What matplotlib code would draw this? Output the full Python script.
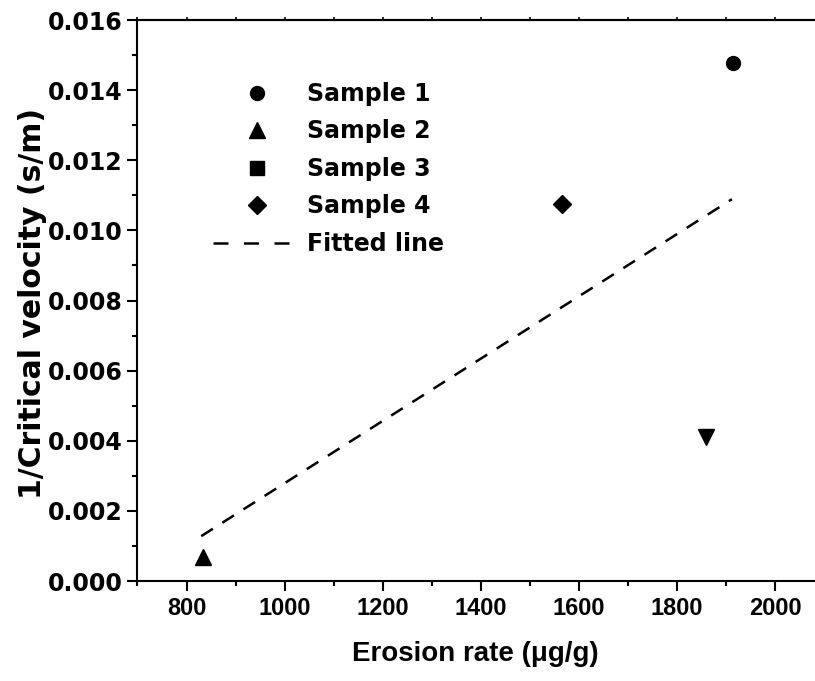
"""
erosion rate vs 1/critical velocity scatter with fitted line
"""

import numpy as np
from matplotlib import pyplot as plt
from matplotlib.lines import Line2D

# data
sample_names = ['Sample 1', 'Sample 2', 'Sample 3', 'Sample 4']
erosion_rate = [1914, 833, 1859, 1565]
inv_velocity = [0.01477, 0.00068, 0.00412, 0.01075]
plot_markers = ['o', '^', 'v', 'D']
legend_markers = ['o', '^', 's', 'D']
marker_sizes = [10, 12, 12, 9.5]
legend_sizes = [10, 12, 9.5, 9.5]

fit_x = [830, 1912]
fit_y = [0.00128, 0.01089]

x_ticks = [800, 1000, 1200, 1400, 1600, 1800, 2000]
y_ticks = [0.000, 0.002, 0.004, 0.006, 0.008, 0.010, 0.012, 0.014, 0.016]

X_FONT = 'Liberation Sans'
Y_FONT = 'DejaVu Sans'

fig = plt.figure(figsize=(8.15, 6.81), dpi=100)
ax = fig.add_axes([0.1687, 0.1468, 0.8425, 0.8238])

# points
for x, y, m, s in zip(erosion_rate, inv_velocity, plot_markers, marker_sizes):
    ax.plot(x, y, linestyle='none', marker=m, markersize=s, color='black')

# fitted line
ax.plot(fit_x, fit_y, color='black', linewidth=1.8, linestyle=(0, (5.5, 4.5)),
        dash_capstyle='butt')

ax.set_xlim(700, 2100)
ax.set_ylim(0, 0.016)
ax.set_xticks(x_ticks)
ax.set_xticks(np.arange(700, 2101, 100), minor=True)
ax.set_yticks(y_ticks)
ax.set_yticks(np.arange(0, 0.0161, 0.001), minor=True)
ax.set_xticklabels([str(t) for t in x_ticks], fontfamily=X_FONT,
                   fontweight='bold', fontsize=17)
ax.set_yticklabels(['%.3f' % t for t in y_ticks], fontfamily=Y_FONT,
                   fontweight='bold', fontsize=17)

ax.tick_params(which='major', direction='out', length=7.5, width=1.5)
ax.tick_params(which='minor', direction='out', length=3.8, width=1.5)
ax.tick_params(axis='x', which='major', pad=4)
ax.tick_params(axis='y', which='major', pad=3)
for spine in ax.spines.values():
    spine.set_linewidth(1.5)

# tiny ticks on the top edge
top = ax.secondary_xaxis('top')
top.set_xticks(np.arange(700, 2101, 100))
top.set_xticklabels([])
top.tick_params(direction='out', length=2, width=1.2)
top.spines['top'].set_linewidth(1.5)

ax.set_xlabel('Erosion rate (\u03bcg/g)', fontfamily=X_FONT,
              fontweight='bold', fontsize=20)
ax.xaxis.set_label_coords(0.4916, -0.107)
ax.set_ylabel('1/Critical velocity (s/m)', fontfamily=Y_FONT,
              fontweight='bold', fontsize=21.5)
ax.yaxis.set_label_coords(-0.132, 0.494)

# legend (sample 3 uses a square in the legend of the original)
handles = [Line2D([], [], linestyle='none', marker=m, markersize=s, color='black')
           for m, s in zip(legend_markers, legend_sizes)]
handles.append(Line2D([], [], color='black', linewidth=1.8,
                      linestyle=(0, (6, 6.2)), dash_capstyle='butt'))
labels = sample_names + ['Fitted line']
ax.legend(handles, labels, loc='upper left', bbox_to_anchor=(0.2613, 0.8796),
          bbox_transform=fig.transFigure, frameon=False, borderpad=0,
          borderaxespad=0, handlelength=3.7, handletextpad=0.3,
          labelspacing=0.57, prop={'family': Y_FONT, 'weight': 'bold', 'size': 17})

fig.savefig('out.png', dpi=100)
